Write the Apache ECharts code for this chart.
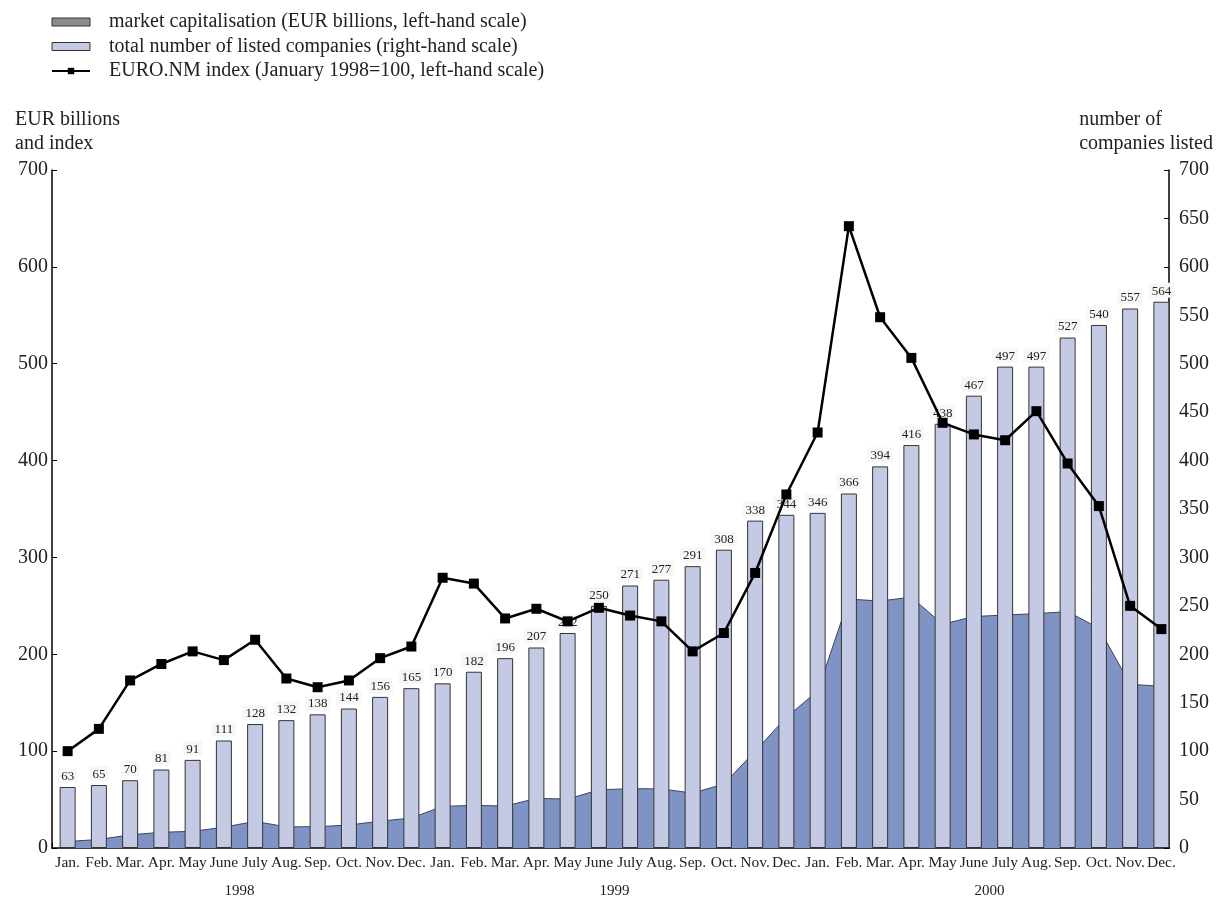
<!DOCTYPE html>
<html>
<head>
<meta charset="utf-8">
<script src="https://cdn.jsdelivr.net/npm/echarts@6/dist/echarts.min.js"></script>
<style>
html,body{margin:0;padding:0;background:#fff;}
#chart{width:1218px;height:899px;}
</style>
</head>
<body>
<div id="chart"></div>
<script>
// ---- data ----
var monthLabels = ['Jan.','Feb.','Mar.','Apr.','May','June','July','Aug.','Sep.','Oct.','Nov.','Dec.',
                   'Jan.','Feb.','Mar.','Apr.','May','June','July','Aug.','Sep.','Oct.','Nov.','Dec.',
                   'Jan.','Feb.','Mar.','Apr.','May','June','July','Aug.','Sep.','Oct.','Nov.','Dec.'];
var yearLabels = ['1998','1999','2000'];
var marketCap = [6.7, 8.8, 13.6, 16.2, 17.2, 21.5, 27.5, 21.8, 22, 23.7, 27.7, 31,
                 43, 44, 43.3, 51.2, 50.5, 60, 61.3, 61, 56.7, 66, 100, 135,
                 162, 257, 255, 259, 231, 239, 240.5, 242, 244, 227, 169, 167];
var listedCompanies = [63, 65, 70, 81, 91, 111, 128, 132, 138, 144, 156, 165,
                       170, 182, 196, 207, 222, 250, 271, 277, 291, 308, 338, 344,
                       346, 366, 394, 416, 438, 467, 497, 497, 527, 540, 557, 564];
var euroNmIndex = [100, 123, 173, 190, 203, 194, 215, 175, 166, 173, 196, 208,
                   279, 273, 237, 247, 234, 248, 240, 234, 203, 222, 284, 365,
                   429, 642, 548, 506, 439, 427, 421, 451, 397, 353, 250, 226];
var seriesNames = ['market capitalisation (EUR billions, left-hand scale)',
                   'total number of listed companies (right-hand scale)',
                   'EURO.NM index (January 1998=100, left-hand scale)'];

var FONT = '"Liberation Serif", "DejaVu Serif", serif';
var chart = echarts.init(document.getElementById('chart'));
chart.setOption({
  animation: false,
  backgroundColor: '#ffffff',
  textStyle: {fontFamily: FONT, color: '#222'},
  legend: {
    orient: 'vertical',
    left: 51, top: 12, padding: 0,
    itemWidth: 38, itemHeight: 8, itemGap: 4.5,
    textStyle: {fontFamily: FONT, fontSize: 20, color: '#222', lineHeight: 20, padding: [0,0,0,14]},
    data: [
      {name: seriesNames[0], icon: 'rect', itemStyle: {color: '#8c8c8c', borderColor: '#333', borderWidth: 1}},
      {name: seriesNames[1], icon: 'rect', itemStyle: {color: '#c5cae4', borderColor: '#333', borderWidth: 1}},
      {name: seriesNames[2]}
    ]
  },
  graphic: [
    {type: 'text', left: 15, top: 108, style: {text: 'EUR billions\nand index', font: '20px ' + FONT, fill: '#222', lineHeight: 24}},
    {type: 'text', right: 5, top: 108, style: {text: 'number of\ncompanies listed', font: '20px ' + FONT, fill: '#222', lineHeight: 24, align: 'right'}},
    {type: 'rect', left: 1170, top: 842, z: 100, shape: {width: 9, height: 10}, style: {fill: '#ffffff'}}
  ],
  grid: {left: 52, right: 41, top: 170, bottom: 50, containLabel: false},
  xAxis: [
    {
      type: 'category', data: monthLabels, boundaryGap: true,
      axisLine: {show: true, lineStyle: {color: '#000', width: 1.5}},
      axisTick: {show: true, inside: true, length: 5, interval: 0, lineStyle: {color: '#000'}},
      axisLabel: {interval: 0, fontFamily: FONT, fontSize: 15.5, color: '#222', margin: 7}
    },
    {
      type: 'category', data: yearLabels, position: 'bottom', offset: 27,
      axisLine: {show: false}, axisTick: {show: false},
      axisLabel: {interval: 0, fontFamily: FONT, fontSize: 15, color: '#222', margin: 9}
    }
  ],
  yAxis: [
    {
      type: 'value', min: 0, max: 700, interval: 100, position: 'left',
      splitLine: {show: false},
      axisLine: {show: true, lineStyle: {color: '#000', width: 1.5}},
      axisTick: {show: true, inside: true, length: 5, lineStyle: {color: '#000'}},
      axisLabel: {fontFamily: FONT, fontSize: 20, color: '#222', margin: 4}
    },
    {
      type: 'value', min: 0, max: 700, interval: 50, position: 'right', offset: -8,
      splitLine: {show: false},
      axisLine: {show: true, lineStyle: {color: '#000', width: 1.5}},
      axisTick: {show: true, inside: true, length: 5, lineStyle: {color: '#000'}},
      axisLabel: {fontFamily: FONT, fontSize: 20, color: '#222', margin: 10}
    }
  ],
  series: [
    {
      name: seriesNames[0], type: 'line', xAxisIndex: 0, yAxisIndex: 0,
      data: marketCap, symbol: 'none', z: 1,
      lineStyle: {color: '#3c4466', width: 1},
      itemStyle: {color: '#7f93c5'},
      areaStyle: {color: '#7f93c5', opacity: 1}
    },
    {
      name: seriesNames[1], type: 'bar', xAxisIndex: 0, yAxisIndex: 1,
      data: listedCompanies, barWidth: 16, z: 2,
      itemStyle: {color: '#c5cae4', borderColor: '#333', borderWidth: 1},
      label: {show: true, position: 'top', distance: 4, fontFamily: FONT, fontSize: 13, color: '#222',
              backgroundColor: '#f7f7f7', padding: [2, 3, 0, 3]}
    },
    {
      name: seriesNames[2], type: 'line', xAxisIndex: 0, yAxisIndex: 0,
      data: euroNmIndex, z: 3,
      symbol: 'rect', symbolSize: 10,
      lineStyle: {color: '#000', width: 2.5},
      itemStyle: {color: '#000'}
    }
  ]
});
</script>
</body>
</html>
